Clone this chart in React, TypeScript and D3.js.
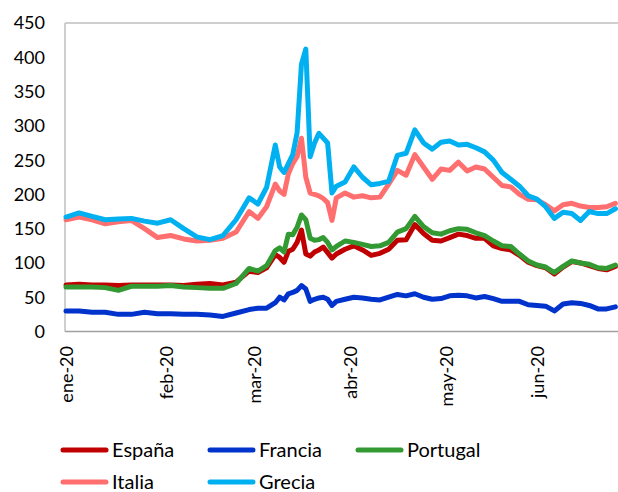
import React from "react";
import * as d3 from "d3";

// business-day index of each sampled point (0 = 1 ene 2020)
const idx = [0,3,6,9,12,15,18,21,24,27,30,33,36,39,42,44,46,48,49,50,51,52,53,54,55,56,57,58,59,60,61,62,64,66,68,70,72,74,76,78,80,82,84,86,88,90,92,94,96,98,100,102,104,106,108,110,112,114,116,118,120,122,124,126];

const espana = [68,69,68,68,67,68,68,68,68,67,69,70,68,72,88,86,93,112,108,101,117,120,130,148,113,110,116,119,123,115,107,113,120,125,119,111,114,120,133,134,156,143,133,132,137,142,140,136,136,125,121,119,111,101,96,93,84,94,102,100,96,92,90,95];
const francia = [30,30,28,28,25,25,28,26,26,25,25,24,22,27,32,34,34,42,50,46,55,57,60,67,62,44,47,49,50,47,38,44,47,50,49,47,46,50,54,52,55,50,47,48,52,53,52,49,51,48,44,44,44,39,38,37,30,40,42,41,38,33,33,36];
const portugal = [65,65,65,64,60,66,66,66,67,65,64,63,63,70,92,88,96,118,122,116,142,141,152,170,163,136,133,134,137,130,119,124,132,130,127,124,125,130,145,150,168,153,144,142,147,150,149,144,140,132,125,124,113,103,97,94,86,95,103,100,98,93,92,97];
const italia = [163,167,163,157,160,162,150,137,140,135,132,133,136,145,175,165,182,215,205,200,230,245,255,282,225,202,200,198,194,188,162,195,202,196,198,195,196,215,235,228,258,240,222,237,235,247,234,240,237,225,213,211,200,193,192,185,176,185,187,183,181,181,182,187];
const grecia = [167,173,168,163,164,165,161,158,163,150,138,134,140,163,195,186,210,272,240,232,245,258,290,390,412,255,275,289,282,275,202,212,218,240,225,214,216,219,257,260,294,275,266,276,278,272,273,268,262,250,232,222,212,198,193,182,165,174,172,162,175,172,172,179];

const seriesNames = ["España", "Francia", "Portugal", "Italia", "Grecia"];
const seriesValues = [espana, francia, portugal, italia, grecia];
const seriesColors = ["#C00000", "#0033CC", "#339933", "#FF6F6F", "#00B0F0"];

const monthLabels = ["ene-20", "feb-20", "mar-20", "abr-20", "may-20", "jun-20"];
const monthIdx = [0, 23, 43, 65, 87, 108];
const yTicks = [0, 50, 100, 150, 200, 250, 300, 350, 400, 450];

const W = 618;
const H = 492;
const FONT = "Lato, 'Open Sans', sans-serif";

export default function App() {
  const x = d3.scaleLinear().domain([0, 126]).range([66, 615.4]);
  const y = d3.scaleLinear().domain([0, 450]).range([331.5, 23]);
  const line = d3
    .line<number>()
    .x((_, i) => x(idx[i]))
    .y((d) => y(d))
    .curve(d3.curveLinear);

  const legendPos = [
    { x: 61, y: 450 },
    { x: 208, y: 450 },
    { x: 356, y: 450 },
    { x: 61, y: 482 },
    { x: 208, y: 482 },
  ];

  return (
    <svg
      width={W}
      height={H}
      style={{ position: "absolute", left: 0, top: 0, background: "#fff" }}
      fontFamily={FONT}
    >
      <rect x={0} y={0} width={W} height={H} fill="#fff" />
      {/* plot area border */}
      <line x1={65} y1={23} x2={W} y2={23} stroke="#BFBFBF" strokeWidth={1.5} />
      <line x1={65} y1={23} x2={65} y2={331.5} stroke="#BFBFBF" strokeWidth={1.5} />
      <line x1={65} y1={331.5} x2={W} y2={331.5} stroke="#A0A0A0" strokeWidth={1.5} />

      {/* y ticks */}
      {yTicks.map((t) => (
        <text
          key={t}
          x={45}
          y={y(t)}
          dy="0.36em"
          textAnchor="end"
          fontSize={18}
          fill="#000"
        >
          {t}
        </text>
      ))}

      {/* x ticks */}
      {monthLabels.map((m, i) => (
        <text
          key={m}
          transform={`translate(${x(monthIdx[i])},346) rotate(-90)`}
          dy="0.4em"
          textAnchor="end"
          fontSize={18}
          fill="#000"
        >
          {m}
        </text>
      ))}

      {/* series */}
      {seriesValues.map((vals, s) => (
        <path
          key={seriesNames[s]}
          d={line(vals) || ""}
          fill="none"
          stroke={seriesColors[s]}
          strokeWidth={5}
          strokeLinejoin="round"
          strokeLinecap="round"
        />
      ))}

      {/* legend */}
      {seriesNames.map((n, s) => (
        <g key={n} transform={`translate(${legendPos[s].x},${legendPos[s].y})`}>
          <line x1={2} y1={0} x2={45} y2={0} stroke={seriesColors[s]} strokeWidth={5} strokeLinecap="round" />
          <text x={51} y={0} dy="0.36em" fontSize={20} fill="#000">
            {n}
          </text>
        </g>
      ))}
    </svg>
  );
}
